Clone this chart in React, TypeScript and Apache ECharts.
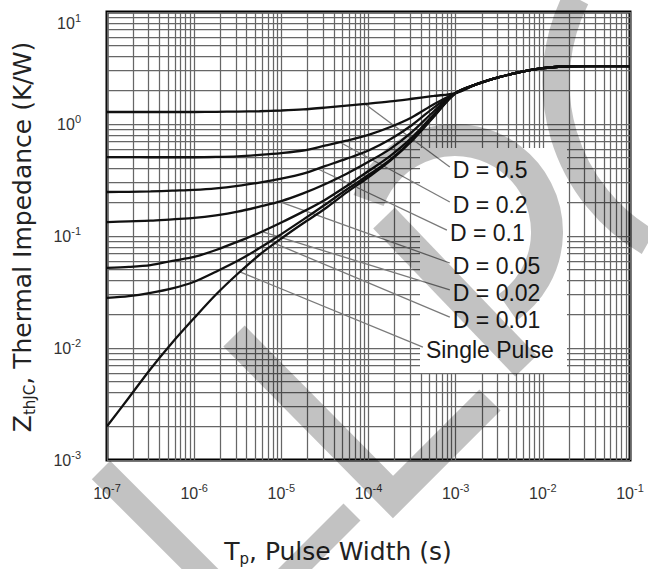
import React, { useEffect, useRef } from "react";
import * as echarts from "echarts";

// Pulse width Tp (s)
const pulseWidth = [1e-7, 1.78e-7, 3.16e-7, 5.62e-7, 1e-6, 1.78e-6, 3.16e-6, 5.62e-6, 1e-5, 1.78e-5, 3.16e-5, 5.62e-5, 1e-4, 1.78e-4, 3.16e-4, 5.62e-4, 1e-3, 1.78e-3, 3.16e-3, 5.62e-3, 1e-2, 1.78e-2, 3.16e-2, 5.62e-2, 1e-1];

// Thermal impedance Z (K/W)
const zD050 = [1.28, 1.28, 1.28, 1.28, 1.28, 1.285, 1.29, 1.30, 1.32, 1.35, 1.40, 1.46, 1.52, 1.59, 1.68, 1.78, 1.89, 2.28, 2.62, 2.92, 3.15, 3.26, 3.28, 3.28, 3.28];
const zD020 = [0.507, 0.506, 0.505, 0.505, 0.505, 0.508, 0.515, 0.53, 0.55, 0.58, 0.64, 0.71, 0.80, 0.94, 1.15, 1.5, 1.89, 2.28, 2.62, 2.92, 3.15, 3.26, 3.28, 3.28, 3.28];
const zD010 = [0.247, 0.248, 0.25, 0.254, 0.258, 0.266, 0.28, 0.30, 0.325, 0.36, 0.42, 0.49, 0.58, 0.73, 0.98, 1.4, 1.89, 2.28, 2.62, 2.92, 3.15, 3.26, 3.28, 3.28, 3.28];
const zD005 = [0.133, 0.135, 0.137, 0.141, 0.145, 0.153, 0.165, 0.183, 0.205, 0.24, 0.29, 0.36, 0.46, 0.60, 0.85, 1.3, 1.89, 2.28, 2.62, 2.92, 3.15, 3.26, 3.28, 3.28, 3.28];
const zD002 = [0.052, 0.053, 0.055, 0.060, 0.065, 0.075, 0.089, 0.107, 0.132, 0.165, 0.21, 0.28, 0.38, 0.52, 0.76, 1.22, 1.89, 2.28, 2.62, 2.92, 3.15, 3.26, 3.28, 3.28, 3.28];
const zD001 = [0.028, 0.029, 0.031, 0.034, 0.039, 0.048, 0.060, 0.078, 0.104, 0.14, 0.19, 0.26, 0.35, 0.48, 0.72, 1.18, 1.89, 2.28, 2.62, 2.92, 3.15, 3.26, 3.28, 3.28, 3.28];
const zSingle = [0.002, 0.0036, 0.0065, 0.0112, 0.0185, 0.030, 0.046, 0.068, 0.095, 0.13, 0.175, 0.245, 0.335, 0.47, 0.71, 1.16, 1.89, 2.28, 2.62, 2.92, 3.15, 3.26, 3.28, 3.28, 3.28];

const curveNames = ["D = 0.5", "D = 0.2", "D = 0.1", "D = 0.05", "D = 0.02", "D = 0.01", "Single Pulse"];
const curveValues = [zD050, zD020, zD010, zD005, zD002, zD001, zSingle];

// Leader lines: Tp where each leader touches its curve, and where its label sits
const leaderCurveT = [9.1e-5, 4.7e-5, 2.6e-5, 9.5e-6, 6.0e-6, 7.4e-6, 3.35e-6];
const leaderLabelT = [8.57e-4, 8.57e-4, 7.93e-4, 8.57e-4, 8.57e-4, 8.57e-4, 4.21e-4];
const leaderLabelZ = [0.413, 0.201, 0.113, 0.0574, 0.033, 0.0189, 0.0102];

// Axis extents and minor grid multipliers
const xMin = 1e-7;
const xMax = 1e-1;
const yMin = 1e-3;
const yMax = 10;
const xDecades = [-7, -6, -5, -4, -3, -2];
const yDecades = [-3, -2, -1, 0];
const minorSteps = [2, 3, 4, 5, 6, 7, 8, 9];

const FONT = "'Liberation Sans', Arial, sans-serif";
const TITLE_FONT = "'DejaVu Sans', 'Liberation Sans', sans-serif";
const GRID_COLOR = "#666666";
const WM = "rgba(0,0,0,0.24)";

function interpLogLog(xs: number[], ys: number[], x: number): number {
  const lx = Math.log10(x);
  for (let i = 0; i < xs.length - 1; i++) {
    const a = Math.log10(xs[i]);
    const b = Math.log10(xs[i + 1]);
    if (lx >= a && lx <= b) {
      const t = (lx - a) / (b - a);
      return Math.pow(10, Math.log10(ys[i]) * (1 - t) + Math.log10(ys[i + 1]) * t);
    }
  }
  return ys[ys.length - 1];
}

export default function App() {
  const ref = useRef<HTMLDivElement>(null);

  useEffect(() => {
    if (!ref.current) return;
    const chart = echarts.init(ref.current, null, { renderer: "svg" });

    const gridLines: { coords: number[][] }[] = [];
    xDecades.forEach((d) =>
      minorSteps.forEach((m) => {
        const v = m * Math.pow(10, d);
        gridLines.push({ coords: [[v, yMin], [v, yMax]] });
      })
    );
    yDecades.forEach((d) =>
      minorSteps.forEach((m) => {
        const v = m * Math.pow(10, d);
        gridLines.push({ coords: [[xMin, v], [xMax, v]] });
      })
    );

    const tickRich = {
      b: { fontSize: 16, lineHeight: 22, color: "#333", fontFamily: FONT },
      s: { fontSize: 11, lineHeight: 12, verticalAlign: "top", color: "#333", fontFamily: FONT },
    };
    const tickFormatter = (v: number) => `{b|10}{s|${Math.round(Math.log10(v))}}`;

    const gridSeries = {
      type: "lines",
      coordinateSystem: "cartesian2d",
      silent: true,
      z: 1,
      polyline: false,
      lineStyle: { color: GRID_COLOR, width: 1.25, opacity: 1, curveness: 0 },
      data: gridLines,
    };

    const curveSeries = curveNames.map((name, k) => ({
      name,
      type: "line",
      data: pulseWidth.map((t, i) => [t, curveValues[k][i]]),
      showSymbol: false,
      smooth: 0.3,
      z: 6,
      lineStyle: { color: "#111", width: 2.3 },
    }));

    const leaderSeries = curveNames.map((name, k) => ({
      name: name + " leader",
      type: "line",
      data: [
        [leaderCurveT[k], interpLogLog(pulseWidth, curveValues[k], leaderCurveT[k])],
        [leaderLabelT[k], leaderLabelZ[k]],
      ],
      showSymbol: false,
      z: 5,
      lineStyle: { color: "#7a7a7a", width: 1.3 },
      endLabel: {
        show: true,
        formatter: () => name,
        fontSize: 23,
        fontFamily: FONT,
        color: "#1a1a1a",
        distance: 3,
        offset: [0, 3],
      },
    }));

    const deg = Math.PI / 180;

    chart.setOption({
      animation: false,
      backgroundColor: "#fff",
      grid: {
        left: 107,
        top: 12,
        right: 18,
        bottom: 109,
        show: true,
        borderColor: "#000",
        borderWidth: 3,
        backgroundColor: "transparent",
      },
      xAxis: {
        type: "log",
        logBase: 10,
        min: xMin,
        max: xMax,
        splitNumber: 6,
        axisLine: { show: false },
        axisTick: { show: false },
        splitLine: { show: true, lineStyle: { color: GRID_COLOR, width: 1.25 } },
        axisLabel: {
          formatter: tickFormatter,
          rich: tickRich,
          margin: 22,
          showMinLabel: true,
          showMaxLabel: true,
        },
      },
      yAxis: {
        type: "log",
        logBase: 10,
        min: yMin,
        max: yMax,
        splitNumber: 4,
        axisLine: { show: false },
        axisTick: { show: false },
        splitLine: { show: true, lineStyle: { color: GRID_COLOR, width: 1.25 } },
        axisLabel: {
          formatter: tickFormatter,
          rich: tickRich,
          margin: 26,
          showMinLabel: true,
          showMaxLabel: true,
          verticalAlignMaxLabel: "top",
        },
      },
      series: [gridSeries, ...leaderSeries, ...curveSeries],
      graphic: [
        {
          type: "rect",
          z: 3,
          silent: true,
          shape: { x: 420, y: 148, width: 147, height: 225 },
          style: { fill: "#fff" },
        },
        {
          type: "text",
          z: 10,
          x: 338,
          y: 551,
          style: {
            text: "{a|T}{b|p}{a|, Pulse Width (s)}",
            align: "center",
            verticalAlign: "middle",
            rich: {
              a: { fontSize: 25, lineHeight: 30, fontFamily: TITLE_FONT, fill: "#222" },
              b: { fontSize: 15, lineHeight: 16, verticalAlign: "bottom", fontFamily: TITLE_FONT, fill: "#222" },
            },
          },
        },
        {
          type: "text",
          z: 10,
          x: 22,
          y: 237,
          rotation: Math.PI / 2,
          style: {
            text: "{a|Z}{b|thJC}{a|, Thermal Impedance (K/W)}",
            align: "center",
            verticalAlign: "middle",
            rich: {
              a: { fontSize: 25, lineHeight: 30, fontFamily: TITLE_FONT, fill: "#222" },
              b: { fontSize: 15, lineHeight: 16, verticalAlign: "bottom", fontFamily: TITLE_FONT, fill: "#222" },
            },
          },
        },
        {
          type: "group",
          z: 20,
          silent: true,
          children: [
            {
              type: "polyline",
              z: 20,
              shape: { points: [[234, 336], [393, 497], [490, 400]] },
              style: { stroke: WM, lineWidth: 30, fill: "none", lineJoin: "miter", lineCap: "butt" },
            },
            {
              type: "polyline",
              z: 20,
              shape: { points: [[101, 470], [210, 579]] },
              style: { stroke: WM, lineWidth: 26, fill: "none", lineCap: "butt" },
            },
            {
              type: "polyline",
              z: 20,
              shape: { points: [[352, 512], [285, 579]] },
              style: { stroke: WM, lineWidth: 24, fill: "none", lineCap: "butt" },
            },
            {
              type: "arc",
              z: 20,
              shape: { cx: 741, cy: 82, r: 185, startAngle: 120 * deg, endAngle: 207 * deg, clockwise: true },
              style: { stroke: WM, lineWidth: 27, fill: "none" },
            },
            {
              type: "arc",
              z: 20,
              shape: { cx: 455, cy: 232, r: 92, startAngle: 200 * deg, endAngle: 415 * deg, clockwise: true },
              style: { stroke: WM, lineWidth: 32, fill: "none" },
            },
            {
              type: "polyline",
              z: 20,
              shape: { points: [[384, 218], [526, 366]] },
              style: { stroke: WM, lineWidth: 30, fill: "none", lineCap: "butt" },
            },
          ],
        },
      ],
    });

    return () => chart.dispose();
  }, []);

  return (
    <div
      ref={ref}
      style={{ position: "fixed", left: 0, top: 0, width: 648, height: 569, background: "#fff" }}
    />
  );
}
